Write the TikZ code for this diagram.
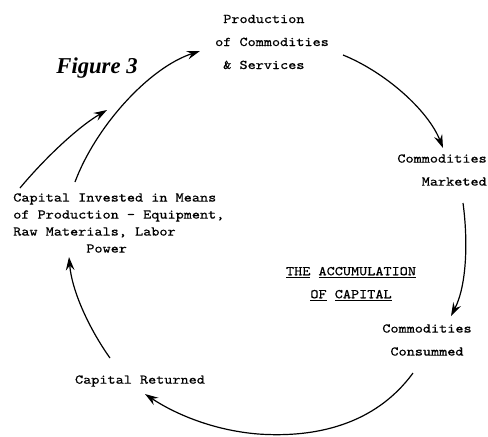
\documentclass[tikz,border=0pt]{standalone}
\usepackage{fontspec}
\setmonofont{Latin Modern Mono}[FakeStretch=1.16,FakeBold=0.6]
\newfontfamily\figfont{Liberation Serif}
\usetikzlibrary{arrows.meta}
\begin{document}
\begin{tikzpicture}[x=0.75pt,y=-0.75pt,
  lab/.style={font=\ttfamily\fontsize{10}{17.25}\selectfont, inner sep=0pt},
  tight/.style={font=\ttfamily\fontsize{10}{12.75}\selectfont, inner sep=0pt},
  flow/.style={line width=0.9pt, -{Stealth[length=10pt,width=6.5pt,inset=3.5pt]}}]
\useasboundingbox (0,0) rectangle (488,436);

\node[lab, align=left] (prod) at (272,42) {\phantom{o}Production\\of Commodities\\\phantom{o}\& Services};
\node[lab, align=right, anchor=east] (mkt) at (487,170) {Commodities\\Marketed};
\node[lab, align=center] (cons) at (427,340) {Commodities\\Consummed};
\node[lab] (ret) at (140,381) {Capital Returned};
\node[tight, align=left, anchor=west] (inv) at (13,223) {Capital Invested in Means\\of Production - Equipment,\\Raw Materials, Labor\\\phantom{Raw Mater}Power};
\node[lab, align=center] (title) at (351,284) {\underline{THE} \underline{ACCUMULATION}\\\underline{OF} \underline{CAPITAL}};
\node[font=\figfont\bfseries\itshape\fontsize{17}{20}\selectfont, inner sep=0pt] (fig) at (97,68) {Figure 3};

\coordinate (a1) at (343,55);
\coordinate (a2) at (443,148);
\coordinate (b1) at (463,203);
\coordinate (b2) at (451,316);
\coordinate (c1) at (413,373);
\coordinate (cm) at (258,434);
\coordinate (c2) at (145,394);
\coordinate (d1) at (110,358);
\coordinate (d2) at (69,257);
\coordinate (e1) at (75,182);
\coordinate (e2) at (200,51);
\coordinate (f1) at (20,188);
\coordinate (f2) at (107,110);

\draw[flow] (a1) .. controls (385,72) and (428,110) .. (a2);
\draw[flow] (b1) .. controls (468,240) and (467,285) .. (b2);
\draw[flow] (c1) .. controls (375,425) and (315,438) .. (cm) .. controls (210,430) and (172,412) .. (c2);
\draw[flow] (d1) .. controls (90,330) and (72,292) .. (d2);
\draw[flow] (e1) .. controls (95,128) and (148,68) .. (e2);
\draw[flow] (f1) .. controls (45,158) and (78,127) .. (f2);
\end{tikzpicture}
\end{document}
